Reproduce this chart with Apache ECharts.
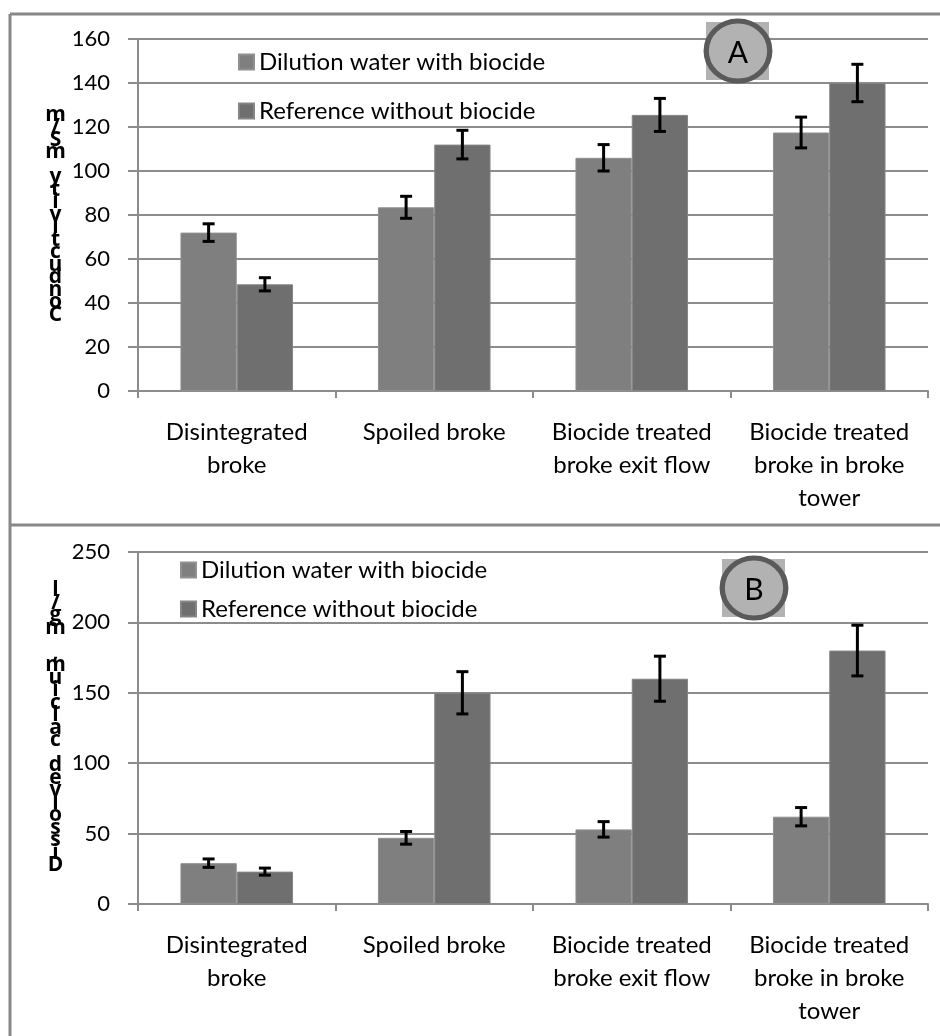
<!DOCTYPE html>
<html>
<head>
<meta charset="utf-8">
<script src="https://cdn.jsdelivr.net/npm/echarts@6/dist/echarts.min.js"></script>
<style>
  html, body { margin: 0; padding: 0; background: #fff; }
  #chart { width: 940px; height: 1036px; }
</style>
</head>
<body>
<div id="chart"></div>
<script>
// categories and series names
const categories = ['Disintegrated\nbroke', 'Spoiled broke', 'Biocide treated\nbroke exit flow', 'Biocide treated\nbroke in broke\ntower']
const seriesNames = ['Dilution water with biocide', 'Reference without biocide']

// panel A - conductivity, mS/m
const condDilution = [72, 83.5, 106, 117.5]
const condReference = [48.5, 112, 125.5, 140]
const condDilutionErr = [4, 5, 6, 7]
const condReferenceErr = [3, 6.5, 7.5, 8.5]

// panel B - dissolved calcium, mg/l
const caDilution = [29, 47, 53, 62]
const caReference = [23, 150, 160, 180]
const caDilutionErr = [3, 4.5, 5.5, 6.5]
const caReferenceErr = [2.5, 15, 16, 18]

const font = 'Lato'
const gridGray = '#8c8c8c'

// letters stacked upright, bottom to top
const stack = s => s.split('').reverse().join('\n')

function errData(vals, errs, side) {
  return vals.map((v, i) => [i, v - errs[i], v + errs[i], side])
}

function renderErr(params, api) {
  const cat = api.value(0)
  const band = api.size([1, 0])[0]
  const x = api.coord([cat, 0])[0] + api.value(3) * band * 0.57 / 4
  const top = api.coord([cat, api.value(2)])[1]
  const bot = api.coord([cat, api.value(1)])[1]
  const st = { stroke: '#000', lineWidth: 3 }
  return {
    type: 'group',
    children: [
      { type: 'line', shape: { x1: x, y1: top, x2: x, y2: bot }, style: st },
      { type: 'line', shape: { x1: x - 6, y1: top, x2: x + 6, y2: top }, style: st },
      { type: 'line', shape: { x1: x - 6, y1: bot, x2: x + 6, y2: bot }, style: st }
    ]
  }
}

function yAxis(gridIndex, max, interval, title) {
  return {
    type: 'value', gridIndex, min: 0, max, interval,
    name: stack(title), nameLocation: 'middle', nameRotate: 0, nameGap: 80,
    nameTextStyle: { fontFamily: 'Open Sans', fontSize: 21, fontWeight: 'bold', color: '#000', lineHeight: 12.5, align: 'center' },
    axisLine: { show: true, lineStyle: { color: gridGray, width: 2 } },
    axisTick: { show: true, length: 10, lineStyle: { color: gridGray, width: 2 } },
    splitLine: { lineStyle: { color: gridGray, width: 2 } },
    axisLabel: { fontFamily: font, fontSize: 22, color: '#000', margin: 28 }
  }
}

function xAxis(gridIndex) {
  return {
    type: 'category', gridIndex, data: categories,
    axisLine: { lineStyle: { color: gridGray, width: 2 } },
    axisTick: { show: true, length: 7, lineStyle: { color: gridGray, width: 2 } },
    axisLabel: { fontFamily: font, fontSize: 24, color: '#000', margin: 25, lineHeight: 33, interval: 0 }
  }
}

function bars(idx, dil, ref) {
  const common = { type: 'bar', xAxisIndex: idx, yAxisIndex: idx, barGap: '0%', barCategoryGap: '43%' }
  return [
    { ...common, name: seriesNames[0], data: dil, itemStyle: { color: '#7f7f7f', borderColor: '#909090', borderWidth: 1 } },
    { ...common, name: seriesNames[1], data: ref, itemStyle: { color: '#6f6f6f', borderColor: '#858585', borderWidth: 1 } }
  ]
}

function errSeries(idx, vals, errs, side) {
  return {
    type: 'custom', name: 'err', xAxisIndex: idx, yAxisIndex: idx,
    renderItem: renderErr, data: errData(vals, errs, side), z: 5,
    encode: { x: 0, y: [1, 2] }
  }
}

function legend(left, top, gap) {
  return {
    data: seriesNames, orient: 'vertical', left, top, itemGap: gap,
    itemWidth: 15, itemHeight: 15, itemTextGap: 7, icon: 'rect', padding: 0,
    textStyle: { fontFamily: font, fontSize: 24, color: '#000', lineHeight: 24 }
  }
}

function badge(letter, x, y, cx, cy) {
  return [
    { type: 'rect', left: x, top: y, shape: { width: 63, height: 58 }, style: { fill: '#b2b2b2' }, z: 10 },
    { type: 'circle', shape: { cx, cy, r: 30 }, scaleX: 1.06, originX: cx, originY: cy, style: { fill: '#b2b2b2', stroke: '#5a5a5a', lineWidth: 5 }, z: 11 },
    { type: 'text', x: cx, y: cy + 2, style: { text: letter, fontFamily: font, fontSize: 30, fill: '#000', align: 'center', verticalAlign: 'middle' }, z: 12 }
  ]
}

const chart = echarts.init(document.getElementById('chart'))
chart.setOption({
  animation: false,
  backgroundColor: '#fff',
  grid: [
    { left: 138, right: 12, top: 39, bottom: 645 },
    { left: 138, right: 12, top: 552, bottom: 132 }
  ],
  xAxis: [xAxis(0), xAxis(1)],
  yAxis: [
    yAxis(0, 160, 20, 'Conductivity mS/m'),
    yAxis(1, 250, 50, 'Dissolved calcium, mg/l')
  ],
  legend: [legend(238, 50, 25), legend(180, 558, 15)],
  series: [
    ...bars(0, condDilution, condReference),
    errSeries(0, condDilution, condDilutionErr, -1),
    errSeries(0, condReference, condReferenceErr, 1),
    ...bars(1, caDilution, caReference),
    errSeries(1, caDilution, caDilutionErr, -1),
    errSeries(1, caReference, caReferenceErr, 1)
  ],
  graphic: [
    { type: 'line', shape: { x1: 10, y1: 14, x2: 940, y2: 14 }, style: { stroke: '#888', lineWidth: 3 } },
    { type: 'line', shape: { x1: 10, y1: 14, x2: 10, y2: 1036 }, style: { stroke: '#888', lineWidth: 3 } },
    { type: 'line', shape: { x1: 10, y1: 525, x2: 940, y2: 525 }, style: { stroke: '#888', lineWidth: 3 } },
    ...badge('A', 706, 22, 738, 51),
    ...badge('B', 722, 559, 754, 588)
  ]
})
</script>
</body>
</html>
